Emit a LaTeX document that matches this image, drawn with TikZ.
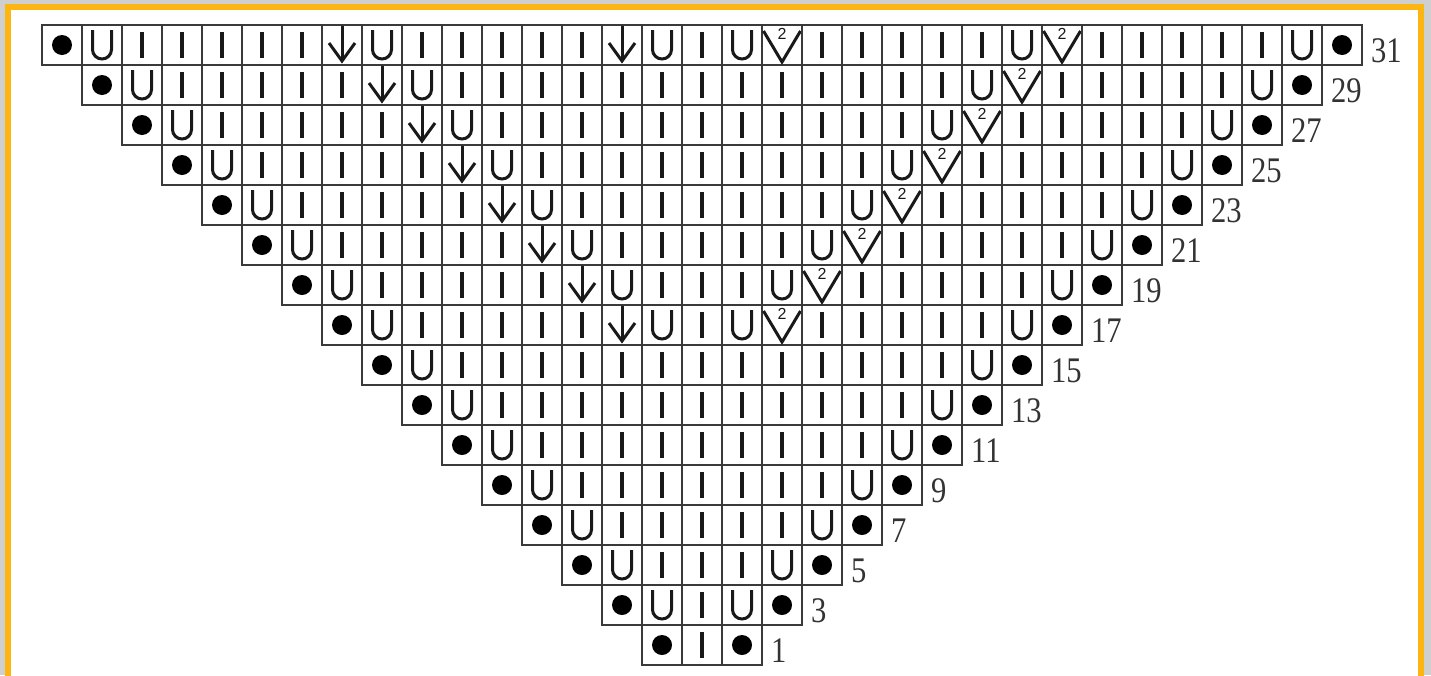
\documentclass[tikz,border=0pt]{standalone}
\usepackage{fontspec}
\setmainfont{Liberation Serif}
\newfontfamily\twofont{Liberation Sans}
\definecolor{frameorange}{HTML}{FDB512}
\definecolor{gridgray}{HTML}{3A3A3A}
\definecolor{outergray}{HTML}{CFCFCF}
\definecolor{labelgray}{HTML}{333333}
\tikzset{
  cell/.style={draw=gridgray, line width=2pt, minimum size=40pt, inner sep=0pt, outer sep=0pt},
  glyph/.style={draw=black!90, line width=3pt},
  rowlabel/.style={font=\fontsize{36}{36}\selectfont, text=labelgray, anchor=base west, inner sep=0pt, xscale=0.85},
  pics/symI/.style={code={\draw[glyph, line width=3.6pt] (0,-13) -- (0,13);}},
  pics/symU/.style={code={\draw[glyph] (-9.5,15) -- (-9.5,-4.5) arc(180:360:9.5) -- (9.5,15);}},
  pics/symA/.style={code={\draw[glyph] (0,19) -- (0,-16);
                          \draw[glyph, line join=miter] (-13,2) -- (0,-16) -- (13,2);}},
  pics/symV/.style={code={\draw[glyph, line join=miter] (-18.5,14) -- (0,-17) -- (18.5,14);
                          \node[inner sep=0pt, font=\twofont\fontsize{16}{16}\selectfont, text=black!90] at (0,11.5) {2};}},
  pics/symD/.style={code={\fill[black] (0,0) circle (10);}},
}
\newcommand\placesym[4]{%
  \def\symkind{0}%
  \ifnum#2>1
    \ifnum#3=2 \def\symkind{1}\fi
    \ifnum#3=\numexpr#4-1\relax \def\symkind{1}\fi
  \fi
  \ifnum#2>15
    \ifnum#3=8 \def\symkind{2}\fi
    \ifnum#3=9 \def\symkind{1}\fi
    \ifnum#3=\numexpr#4-8\relax \def\symkind{1}\fi
    \ifnum#3=\numexpr#4-7\relax \def\symkind{3}\fi
  \fi
  \ifnum#2=31
    \ifnum#3=15 \def\symkind{2}\fi
    \ifnum#3=16 \def\symkind{1}\fi
    \ifnum#3=18 \def\symkind{1}\fi
    \ifnum#3=19 \def\symkind{3}\fi
  \fi
  \ifnum#3=1 \def\symkind{4}\fi
  \ifnum#3=#4 \def\symkind{4}\fi
  \ifcase\symkind
    \pic at (#1) {symI};
  \or
    \pic at (#1) {symU};
  \or
    \pic at (#1) {symA};
  \or
    \pic at (#1) {symV};
  \or
    \pic at (#1) {symD};
  \fi
}
\begin{document}
\begin{tikzpicture}[x=1pt, y=1pt]
  \useasboundingbox (0,0) rectangle (1431,-675);
  \clip (0,0) rectangle (1431,-675);
  \fill[outergray] (0,0) rectangle (1431,-675);
  \draw[frameorange, line width=6pt, fill=white] (8,-7) rectangle (1421,-700);
  \foreach \k in {0,...,15} {
    \pgfmathtruncatemacro\r{2*\k+1}
    \pgfmathtruncatemacro\n{2*\k+3}
    \pgfmathsetmacro\yc{40*\k-645}
    \pgfmathsetmacro\xz{702-20*\n+20}
    \foreach \i in {1,...,\n} {
      \pgfmathsetmacro\xc{\xz+40*(\i-1)}
      \node[cell] (c-\k-\i) at (\xc,\yc) {};
      \placesym{c-\k-\i}{\r}{\i}{\n}
    }
    \node[rowlabel] (lab-\k) at ([xshift=9pt, yshift=3pt]c-\k-\n.south east) {\r};
  }
\end{tikzpicture}
\end{document}
